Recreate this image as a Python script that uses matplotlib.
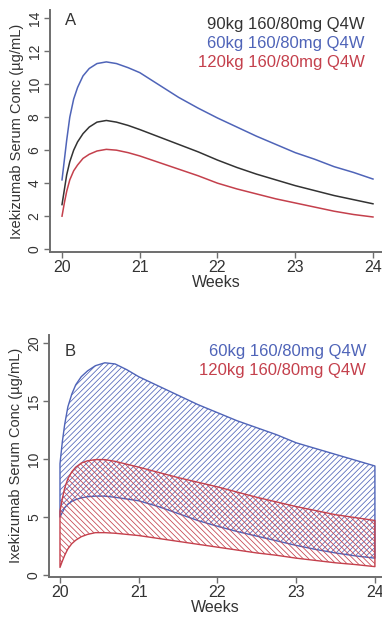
import matplotlib
matplotlib.use("Agg")
import matplotlib.pyplot as plt

plt.rcParams['font.family'] = ['Liberation Sans', 'DejaVu Sans']
plt.rcParams['hatch.linewidth'] = 0.55

# weeks (shared x grid for all curves)
weeks = [20.0, 20.03, 20.06, 20.1, 20.15, 20.2, 20.27, 20.35, 20.45, 20.57,
         20.7, 20.85, 21.0, 21.25, 21.5, 21.75, 22.0, 22.25, 22.5, 22.75,
         23.0, 23.25, 23.5, 23.75, 24.0]

# Panel A: median concentration curves
conc_90kg = [2.7, 3.6, 4.5, 5.3, 6.0, 6.5, 7.0, 7.4, 7.7, 7.8,
             7.7, 7.5, 7.25, 6.8, 6.35, 5.9, 5.4, 4.95, 4.55, 4.2,
             3.85, 3.55, 3.25, 3.0, 2.75]
conc_60kg = [4.2, 5.4, 6.6, 8.0, 9.1, 9.8, 10.5, 10.95, 11.25, 11.35,
             11.25, 11.0, 10.7, 9.95, 9.2, 8.55, 7.95, 7.4, 6.85, 6.35,
             5.85, 5.45, 5.0, 4.65, 4.25]
conc_120kg = [2.0, 2.8, 3.5, 4.2, 4.75, 5.1, 5.5, 5.75, 5.95, 6.05,
              6.0, 5.85, 5.65, 5.25, 4.85, 4.45, 4.0, 3.65, 3.35, 3.05,
              2.8, 2.55, 2.3, 2.1, 1.95]

# Panel B: prediction bands
hi_60kg = [9.6, 11.5, 13.0, 14.5, 15.6, 16.4, 17.1, 17.6, 18.05, 18.3,
           18.2, 17.7, 17.1, 16.3, 15.5, 14.7, 14.0, 13.3, 12.7, 12.1,
           11.4, 10.9, 10.4, 9.9, 9.4]
lo_60kg = [5.0, 5.4, 5.8, 6.1, 6.35, 6.5, 6.65, 6.75, 6.8, 6.8,
           6.7, 6.55, 6.4, 5.9, 5.3, 4.7, 4.2, 3.75, 3.35, 2.95,
           2.55, 2.2, 1.9, 1.65, 1.45]
hi_120kg = [5.5, 6.6, 7.5, 8.3, 8.9, 9.3, 9.65, 9.85, 9.95, 9.95,
            9.8, 9.55, 9.3, 8.85, 8.4, 8.0, 7.6, 7.15, 6.7, 6.3,
            5.9, 5.55, 5.2, 4.95, 4.7]
lo_120kg = [0.65, 1.2, 1.7, 2.25, 2.7, 3.0, 3.3, 3.5, 3.65, 3.65,
            3.6, 3.5, 3.4, 3.15, 2.9, 2.65, 2.4, 2.15, 1.9, 1.7,
            1.45, 1.25, 1.05, 0.9, 0.72]

x_ticks = [20, 21, 22, 23, 24]
yticks_a = [0, 2, 4, 6, 8, 10, 12, 14]
yticks_b = [0, 5, 10, 15, 20]

labels_a = ['90kg 160/80mg Q4W', '60kg 160/80mg Q4W', '120kg 160/80mg Q4W']
labels_b = ['60kg 160/80mg Q4W', '120kg 160/80mg Q4W']

BLUE = '#4f64b8'
RED = '#c4404c'
BLACK = '#333333'
AXC = '#6e6e6e'
TXT = '#333333'


def style_axes(ax, yticks):
    for s in ['top', 'right']:
        ax.spines[s].set_visible(False)
    for s in ['left', 'bottom']:
        ax.spines[s].set_color(AXC)
        ax.spines[s].set_linewidth(1.4)
    ax.set_xticks(x_ticks)
    ax.set_yticks(yticks)
    ax.tick_params(axis='both', colors=AXC, length=4, width=1.0,
                   labelcolor=TXT)
    ax.tick_params(axis='x', labelsize=11.5, pad=2)
    ax.tick_params(axis='y', labelsize=10, pad=2)
    for t in ax.get_yticklabels():
        t.set_rotation(90)
        t.set_va('center')
    ax.set_xlabel('Weeks', fontsize=11.5, color=TXT, labelpad=0)
    ax.set_ylabel('Ixekizumab Serum Conc (\u00b5g/mL)', fontsize=10.5,
                  color=TXT, labelpad=3)


fig = plt.figure(figsize=(3.82, 6.21), dpi=100)

# Panel A
ax1 = fig.add_axes([0.131, 0.594, 0.869, 0.390])
ax1.plot(weeks, conc_60kg, color=BLUE, lw=1.1)
ax1.plot(weeks, conc_90kg, color=BLACK, lw=1.1)
ax1.plot(weeks, conc_120kg, color=RED, lw=1.1)
ax1.set_xlim(19.846, 24.116)
ax1.set_ylim(-0.18, 14.5)
style_axes(ax1, yticks_a)
ax1.text(0.045, 0.955, 'A', transform=ax1.transAxes, fontsize=12,
         color=TXT, va='center', ha='left')
for i, (lab, c) in enumerate(zip(labels_a, [BLACK, BLUE, RED])):
    ax1.text(0.948, 0.94 - i * 0.078, lab, transform=ax1.transAxes,
             fontsize=12, color=c, ha='right', va='center')

# Panel B
ax2 = fig.add_axes([0.129, 0.0713, 0.871, 0.3893])
ax2.fill_between(weeks, lo_60kg, hi_60kg, facecolor='none', edgecolor=BLUE,
                 hatch='//////', lw=1.0)
ax2.fill_between(weeks, lo_120kg, hi_120kg, facecolor='none', edgecolor=RED,
                 hatch='\\\\\\\\\\\\', lw=1.0)
ax2.set_xlim(19.864, 24.09)
ax2.set_ylim(-0.15, 20.7)
style_axes(ax2, yticks_b)
ax2.text(0.045, 0.93, 'B', transform=ax2.transAxes, fontsize=12,
         color=TXT, va='center', ha='left')
for i, (lab, c) in enumerate(zip(labels_b, [BLUE, RED])):
    ax2.text(0.952, 0.93 - i * 0.075, lab, transform=ax2.transAxes,
             fontsize=12, color=c, ha='right', va='center')

fig.savefig('out.png', dpi=100)
